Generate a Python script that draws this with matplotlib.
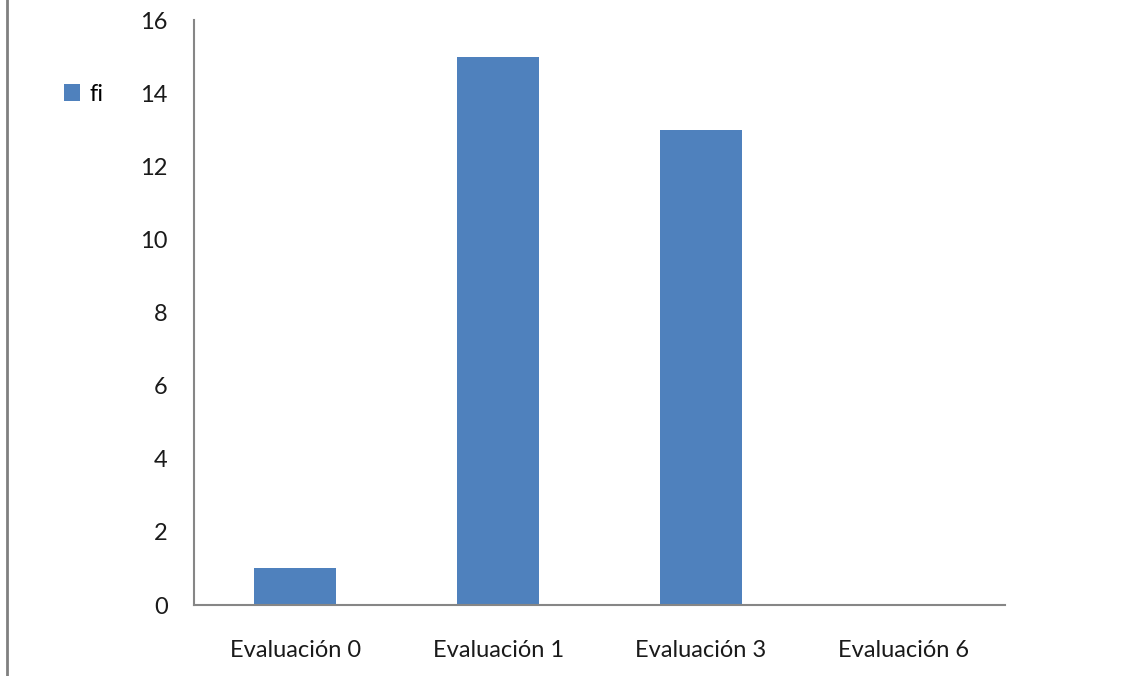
import matplotlib
matplotlib.use("Agg")
import matplotlib.pyplot as plt
from matplotlib.lines import Line2D

categorias = ["Evaluación 0", "Evaluación 1", "Evaluación 3", "Evaluación 6"]
fi = [1, 15, 13, 0]
ticks_y = [0, 2, 4, 6, 8, 10, 12, 14, 16]

plt.rcParams["font.family"] = ["Lato", "DejaVu Sans"]

fig = plt.figure(figsize=(11.27, 6.76), dpi=100)
ax = fig.add_axes([0.1721, 0.105, 0.7197, 0.8654])

x = range(len(categorias))
ax.bar(x, fi, width=0.405, color="#4f81bd", label="fi", zorder=2)

ax.set_xlim(-0.5, len(categorias) - 0.5)
ax.set_ylim(0, 16)
ax.set_yticks(ticks_y)
ax.set_xticks(list(x))
ax.set_xticklabels(categorias)
ax.tick_params(axis="both", length=0, labelsize=17, colors="#1a1a1a")
ax.tick_params(axis="y", pad=19)
ax.tick_params(axis="x", pad=25)

for lado in ["top", "right"]:
    ax.spines[lado].set_visible(False)
for lado in ["left", "bottom"]:
    ax.spines[lado].set_color("#868686")
    ax.spines[lado].set_linewidth(1.5)

# leyenda a la izquierda, fuera del grafico
ax.legend(loc="center left", bbox_to_anchor=(-0.187, 0.873), frameon=False,
          fontsize=17, handlelength=0.7, handleheight=0.7, handletextpad=0.4)

# borde gris a la izquierda de la figura
fig.add_artist(Line2D([0.0062, 0.0062], [0, 1], color="#808080", linewidth=2,
                      transform=fig.transFigure))

fig.savefig("out.png", dpi=100)
